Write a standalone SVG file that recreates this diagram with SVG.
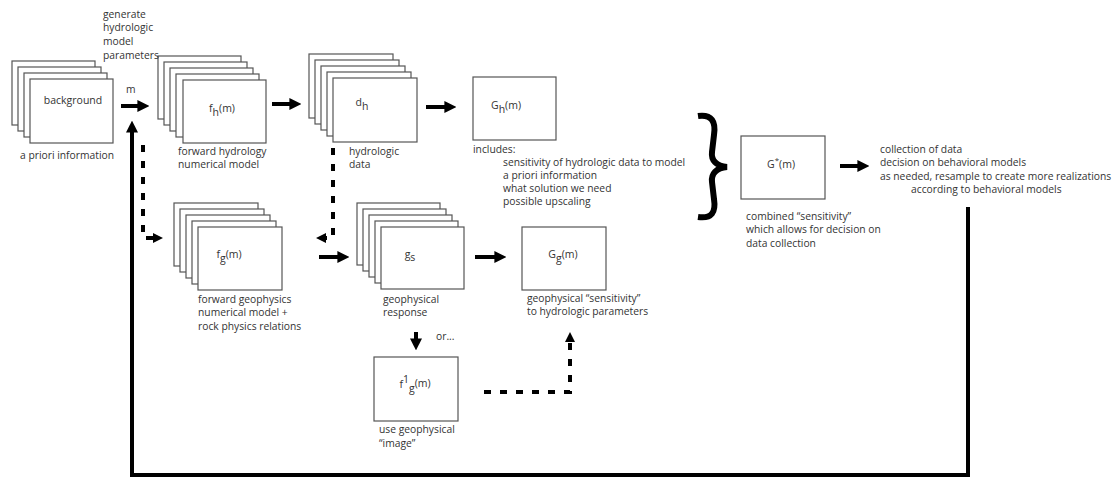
<svg xmlns="http://www.w3.org/2000/svg" width="1115" height="478" viewBox="0 0 1115 478">
<defs>
<style>
.bx{fill:#fff;stroke:#555;stroke-width:1.2}
.t{font-family:"Open Sans","Liberation Sans",sans-serif;font-size:10.3px;fill:#333}
.tb{font-family:"Open Sans","Liberation Sans",sans-serif;font-size:10.5px;fill:#333;text-anchor:middle}
.s{font-size:8px}
.a{fill:none;stroke:#000;stroke-width:4;marker-end:url(#ah)}
.d{fill:none;stroke:#000;stroke-width:4;stroke-dasharray:7 9;marker-end:url(#ahs)}
</style>
<marker id="ah" markerUnits="userSpaceOnUse" markerWidth="12" markerHeight="12" viewBox="0 0 10 10" refX="3" refY="5" orient="auto">
<path d="M0,0 L10,5 L0,10 z" fill="#000"/>
</marker>
<marker id="ahs" markerUnits="userSpaceOnUse" markerWidth="10" markerHeight="10" viewBox="0 0 10 10" refX="3" refY="5" orient="auto">
<path d="M0,0 L10,5 L0,10 z" fill="#000"/>
</marker>
</defs>
<rect width="1115" height="478" fill="#fff"/>

<g id="background">
<rect class="bx" x="12" y="61" width="83" height="64"/>
<rect class="bx" x="18" y="67" width="83" height="64"/>
<rect class="bx" x="24" y="73" width="83" height="64"/>
<rect class="bx" x="30" y="79" width="83" height="64"/>
<text class="tb" x="73" y="104">background</text>
<text class="t" x="20" y="159">a priori information</text>
</g>

<g id="fh">
<rect class="bx" x="158" y="56" width="83" height="63"/>
<rect class="bx" x="164" y="62" width="83" height="63"/>
<rect class="bx" x="170" y="68" width="83" height="63"/>
<rect class="bx" x="176" y="74" width="83" height="63"/>
<rect class="bx" x="183" y="80" width="83" height="63"/>
<text class="tb" x="222" y="112">f<tspan dy="4">h</tspan><tspan dy="-4">(m)</tspan></text>
<text class="t" x="178" y="155">forward hydrology</text>
<text class="t" x="178" y="168">numerical model</text>
</g>

<g id="dh">
<rect class="bx" x="309" y="54" width="84" height="64"/>
<rect class="bx" x="315" y="60" width="84" height="64"/>
<rect class="bx" x="321" y="66" width="84" height="64"/>
<rect class="bx" x="327" y="72" width="84" height="64"/>
<rect class="bx" x="333" y="78" width="84" height="64"/>
<text class="tb" x="362" y="106">d<tspan dy="4">h</tspan></text>
<text class="t" x="349" y="155">hydrologic</text>
<text class="t" x="349" y="168">data</text>
</g>

<g id="Gh">
<rect class="bx" x="473" y="77" width="83" height="63"/>
<text class="tb" x="506" y="109">G<tspan dy="4">h</tspan><tspan dy="-4">(m)</tspan></text>
<text class="t" x="473" y="153">includes:</text>
<text class="t" x="503" y="166">sensitivity of hydrologic data to model</text>
<text class="t" x="503" y="179">a priori information</text>
<text class="t" x="503" y="192">what solution we need</text>
<text class="t" x="503" y="205">possible upscaling</text>
</g>

<g id="brace">
<path d="M698,116 C712,114 716,122 714,135 L712,152 C711,160 716,166 727,167 C716,168 711,174 712,182 L714,199 C716,212 712,219 698,217" fill="none" stroke="#000" stroke-width="6"/>
</g>

<g id="Gstar">
<rect class="bx" x="741" y="136" width="84" height="63"/>
<text class="tb" x="781" y="168">G<tspan dy="-5" class="s">*</tspan><tspan dy="5">(m)</tspan></text>
<text class="t" x="746" y="220">combined “sensitivity”</text>
<text class="t" x="746" y="233">which allows for decision on</text>
<text class="t" x="746" y="247">data collection</text>
</g>

<g id="outcome">
<text class="t" x="880" y="153">collection of data</text>
<text class="t" x="880" y="166">decision on behavioral models</text>
<text class="t" x="880" y="180">as needed, resample to create more realizations</text>
<text class="t" x="911" y="193">according to behavioral models</text>
</g>

<g id="fg">
<rect class="bx" x="174" y="203" width="84" height="63"/>
<rect class="bx" x="180" y="209" width="84" height="63"/>
<rect class="bx" x="186" y="215" width="84" height="63"/>
<rect class="bx" x="192" y="221" width="84" height="63"/>
<rect class="bx" x="198" y="227" width="84" height="63"/>
<text class="tb" x="229" y="258">f<tspan dy="4">g</tspan><tspan dy="-4">(m)</tspan></text>
<text class="t" x="198" y="303">forward geophysics</text>
<text class="t" x="198" y="316">numerical model +</text>
<text class="t" x="198" y="330">rock physics relations</text>
</g>

<g id="gs">
<rect class="bx" x="357" y="203" width="83" height="62"/>
<rect class="bx" x="363" y="209" width="83" height="62"/>
<rect class="bx" x="369" y="215" width="83" height="62"/>
<rect class="bx" x="375" y="221" width="83" height="62"/>
<rect class="bx" x="381" y="227" width="83" height="62"/>
<text class="tb" x="410" y="258">g<tspan dy="3">s</tspan></text>
<text class="t" x="383" y="303">geophysical</text>
<text class="t" x="383" y="316">response</text>
</g>

<g id="Gg">
<rect class="bx" x="522" y="227" width="84" height="63"/>
<text class="tb" x="563" y="258">G<tspan dy="4">g</tspan><tspan dy="-4">(m)</tspan></text>
<text class="t" x="527" y="302">geophysical “sensitivity”</text>
<text class="t" x="527" y="315">to hydrologic parameters</text>
</g>

<g id="finv">
<rect class="bx" x="374" y="357" width="84" height="64"/>
<text class="tb" x="415" y="388">f<tspan dy="-5">1</tspan><tspan dy="9">g</tspan><tspan dy="-5">(m)</tspan></text>
<text class="t" x="379" y="433">use geophysical</text>
<text class="t" x="379" y="447">“image”</text>
</g>

<g id="labels">
<text class="t" x="103" y="18">generate</text>
<text class="t" x="103" y="31">hydrologic</text>
<text class="t" x="103" y="45">model</text>
<text class="t" x="103" y="59">parameters</text>
<text class="t" x="126" y="93">m</text>
<text class="t" x="436" y="340">or...</text>
</g>

<g id="connectors">
<line class="a" x1="121" y1="106" x2="141" y2="106"/>
<line class="a" x1="272" y1="104" x2="293" y2="104"/>
<line class="a" x1="426" y1="107" x2="448" y2="107"/>
<line class="a" x1="840" y1="166" x2="861" y2="166"/>
<line class="a" x1="319" y1="257" x2="341" y2="257"/>
<line class="a" x1="475" y1="257" x2="498" y2="257"/>
<line class="a" x1="416" y1="332" x2="416" y2="342"/>
<path class="a" d="M968,207 V475 H132 V129"/>
<path class="d" d="M143,145 V238 H156"/>
<path class="d" d="M333,148 V238 H323"/>
<path class="d" d="M484,392 H570 V339"/>
</g>
</svg>
